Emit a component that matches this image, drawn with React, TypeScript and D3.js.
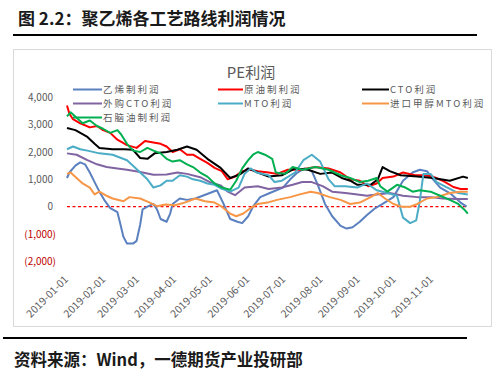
import React from "react";
import * as d3 from "d3";

// [days since 2019-01-01, value]
const ethyleneProfit: [number, number][] = [[0,1050],[2,1250],[7,1500],[11,1620],[15,1550],[19,1250],[23,900],[27,550],[31,250],[36,-50],[42,-200],[44,-550],[47,-1100],[50,-1350],[55,-1350],[58,-1250],[61,-650],[63,-100],[67,0],[72,100],[75,-100],[78,-450],[83,-550],[86,-250],[88,100],[94,300],[100,250],[107,300],[113,400],[119,500],[125,600],[130,150],[136,-450],[142,-550],[146,-600],[151,-350],[155,0],[161,350],[169,500],[180,700],[186,1000],[192,1250],[198,1400],[204,1300],[209,800],[215,100],[221,-350],[228,-700],[233,-800],[238,-750],[244,-550],[250,-300],[257,-50],[263,100],[272,350],[280,950],[288,1250],[294,1350],[300,1300],[305,1000],[311,700],[319,500],[328,150],[333,0]];
const crudeProfit: [number, number][] = [[0,3700],[2,3400],[5,3200],[11,3050],[19,2900],[25,2950],[30,2800],[36,2700],[42,2450],[50,2250],[58,2150],[65,2400],[72,2350],[78,2300],[83,2200],[88,2000],[94,2100],[100,1900],[105,1900],[111,1750],[117,1600],[123,1420],[129,1300],[134,1000],[140,1100],[146,1300],[153,1350],[159,1300],[168,1250],[175,1200],[184,1350],[194,1350],[207,1450],[218,1400],[228,1250],[236,1000],[244,950],[251,750],[258,850],[263,1050],[272,1100],[280,1250],[290,1150],[298,1150],[305,1100],[313,950],[322,720],[328,650],[334,650]];
const ctoProfit: [number, number][] = [[0,2880],[7,2800],[17,2550],[23,2300],[27,2150],[38,2100],[48,2100],[55,2080],[61,1780],[67,1750],[73,1950],[83,2000],[92,2080],[100,2200],[108,2080],[117,1750],[128,1420],[136,1050],[144,1180],[151,1400],[159,1250],[168,1100],[179,1150],[190,1400],[201,1350],[211,1200],[221,1250],[229,1050],[236,950],[242,800],[253,800],[259,1000],[263,1450],[269,1300],[278,1150],[292,1100],[305,1050],[319,950],[330,1100],[334,1050]];
const outsourcedCtoProfit: [number, number][] = [[0,1950],[8,1900],[17,1700],[25,1550],[33,1450],[42,1400],[50,1350],[61,1270],[72,1170],[83,1180],[92,1250],[100,1200],[111,1080],[119,900],[128,780],[134,550],[140,420],[148,700],[159,750],[168,650],[179,700],[188,800],[196,900],[204,900],[213,750],[221,550],[232,500],[242,450],[250,400],[258,450],[269,500],[280,400],[292,350],[303,350],[313,300],[325,280],[334,280]];
const mtoProfit: [number, number][] = [[0,2100],[5,2200],[11,2100],[17,2050],[27,1950],[38,1900],[44,1800],[50,1700],[55,1500],[61,1250],[67,1000],[72,700],[78,780],[83,950],[88,950],[94,1150],[100,1100],[105,1000],[111,950],[117,850],[123,800],[129,650],[136,550],[143,700],[148,1200],[153,1400],[158,1250],[168,1150],[173,900],[179,950],[190,1250],[197,1700],[204,1900],[211,1650],[218,1000],[223,750],[232,750],[242,700],[250,850],[258,600],[267,500],[275,400],[280,-400],[286,-600],[291,-500],[294,200],[297,1200],[303,1200],[308,900],[317,700],[326,500],[334,450]];
const importMethanolMtoProfit: [number, number][] = [[0,1200],[3,1250],[8,1050],[13,850],[19,700],[23,450],[27,550],[33,400],[38,300],[47,200],[52,350],[61,300],[69,150],[75,20],[82,80],[90,50],[98,150],[107,300],[115,200],[123,150],[129,0],[136,-250],[141,-350],[147,-250],[153,-50],[159,100],[167,150],[175,250],[186,350],[194,450],[203,550],[209,500],[219,350],[228,250],[236,100],[244,150],[253,350],[259,500],[265,300],[272,100],[279,0],[286,0],[292,100],[300,300],[308,350],[319,500],[328,550],[334,550]];
const naphthaProfit: [number, number][] = [[0,3300],[3,3450],[8,3250],[13,3050],[19,3150],[25,2950],[30,2850],[36,2700],[42,2800],[45,2650],[50,2300],[55,2050],[61,2000],[67,2150],[72,2050],[78,1950],[83,1750],[88,1650],[94,1700],[100,1550],[105,1450],[111,1250],[117,1100],[123,850],[129,700],[136,620],[141,950],[146,1400],[151,1700],[155,1900],[159,2000],[165,1900],[171,1750],[174,1250],[182,1200],[188,1450],[196,1350],[207,1450],[218,1350],[228,1150],[236,1050],[244,900],[251,950],[258,1050],[261,750],[267,550],[275,800],[282,700],[288,550],[294,600],[303,550],[311,400],[319,250],[326,100],[331,-100],[334,-250]];

const seriesNames = ["乙烯制利润", "原油制利润", "CTO利润", "外购CTO利润", "MTO利润", "进口甲醇MTO利润", "石脑油制利润"];
const seriesColors = ["#5B80BF", "#FF0000", "#000000", "#8064A2", "#4BACC6", "#F79646", "#00B050"];
const seriesData = [ethyleneProfit, crudeProfit, ctoProfit, outsourcedCtoProfit, mtoProfit, importMethanolMtoProfit, naphthaProfit];
const yTicks = [4000, 3000, 2000, 1000, 0, -1000, -2000];
const xTickDates = ["2019-01-01","2019-02-01","2019-03-01","2019-04-01","2019-05-01","2019-06-01","2019-07-01","2019-08-01","2019-09-01","2019-10-01","2019-11-01"];

const START = new Date(2019, 0, 1);
const FONT = "'Noto Sans CJK SC', 'Noto Sans', sans-serif";

export default function App() {
  const x = d3.scaleTime().domain([START, d3.timeDay.offset(START, 334)]).range([67, 67 + 334 * 1.2]);
  const y = d3.scaleLinear().domain([-2000, 4000]).range([261.4, 97.3]);
  const line = d3.line<[number, number]>()
    .x((d) => x(d3.timeDay.offset(START, d[0])))
    .y((d) => y(d[1]));
  const fmt = d3.format(",");
  const parse = d3.timeParse("%Y-%m-%d");

  const legendCols = [73, 218, 362];
  const legendRows = [89.5, 103.5, 117.5];
  const legendLen = [29, 25, 27];

  return (
    <svg width={500} height={381} style={{ position: "absolute", left: 0, top: 0, background: "#fff" }} fontFamily={FONT}>
      <rect x={0} y={0} width={500} height={381} fill="#fff" />
      <text x={18} y={25} fontSize={17} fontWeight="bold" fill="#1a1a1a">图 2.2：聚乙烯各工艺路线利润情况</text>
      <line x1={13} x2={477} y1={35} y2={35} stroke="#000" strokeWidth={2} />
      <rect x={13.5} y={49.5} width={478} height={277} fill="none" stroke="#D9D9D9" strokeWidth={1} />

      <text x={251} y={78} fontSize={15} textAnchor="middle" fill="#595959">PE利润</text>

      {yTicks.map((t) => (
        <text key={t} x={t < 0 ? 56 : 53} y={y(t)} dy="0.35em" fontSize={10} textAnchor="end" fill={t < 0 ? "#C00000" : "#595959"}>
          {t < 0 ? `(${fmt(-t)})` : fmt(t)}
        </text>
      ))}

      {xTickDates.map((s) => {
        const px = x(parse(s) as Date);
        return (
          <text key={s} transform={`translate(${px + 2},${280}) rotate(-45)`} fontSize={10.5} textAnchor="end" fill="#595959">{s}</text>
        );
      })}

      <line x1={67} x2={468} y1={y(0)} y2={y(0)} stroke="#FF0000" strokeWidth={1.2} strokeDasharray="3,2.5" />

      {seriesData.map((data, i) => (
        <path key={i} d={line(data) || ""} fill="none" stroke={seriesColors[i]} strokeWidth={2} strokeLinejoin="round" />
      ))}

      {seriesNames.map((name, i) => {
        const col = i % 3;
        const row = Math.floor(i / 3);
        const lx = legendCols[col];
        const ly = legendRows[row];
        return (
          <g key={name}>
            <line x1={lx} x2={lx + legendLen[col]} y1={ly} y2={ly} stroke={seriesColors[i]} strokeWidth={2} />
            <text x={lx + legendLen[col] + 1} y={ly} dy="0.35em" fontSize={9.5} letterSpacing={2} fill="#595959">{name}</text>
          </g>
        );
      })}

      <line x1={3} x2={467} y1={338} y2={338} stroke="#000" strokeWidth={2} />
      <text x={14} y={366} fontSize={16.5} fontWeight="bold" fill="#1a1a1a">资料来源：Wind，一德期货产业投研部</text>
    </svg>
  );
}
